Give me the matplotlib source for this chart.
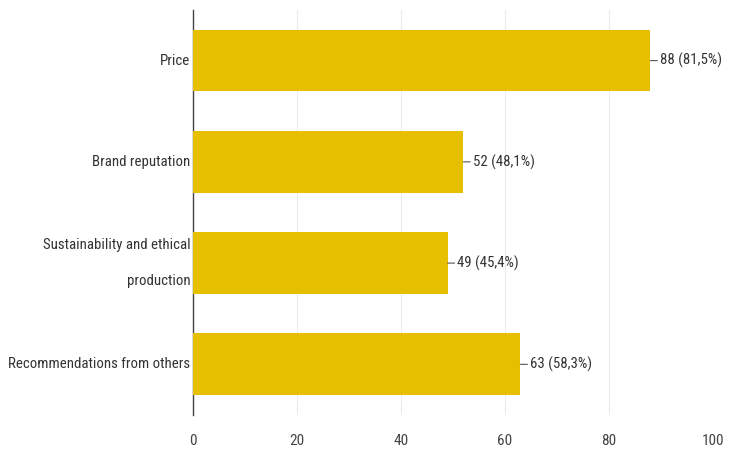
import matplotlib

matplotlib.use("Agg")
import matplotlib.pyplot as plt

categories = [
    "Price",
    "Brand reputation",
    "Sustainability and ethical\nproduction",
    "Recommendations from others",
]
counts = [88, 52, 49, 63]
percents = ["81,5%", "48,1%", "45,4%", "58,3%"]
x_ticks = [0, 20, 40, 60, 80, 100]

plt.rcParams["font.family"] = ["Roboto Condensed", "DejaVu Sans"]

fig = plt.figure(figsize=(7.31, 4.54), dpi=100)
fig.patch.set_facecolor("white")
ax = fig.add_axes([0.264, 0.086, 0.711, 0.892])

y = list(range(len(categories)))
ax.barh(y, counts, height=0.61, color="#E6BF00", zorder=3)

for yi, c, p in zip(y, counts, percents):
    ax.annotate(
        f"{c} ({p})",
        xy=(c, yi),
        xytext=(7, 0),
        textcoords="offset points",
        va="center",
        ha="left",
        fontsize=10.7,
        color="#333333",
        arrowprops=dict(arrowstyle="-", color="#555555", lw=0.8,
                        shrinkA=0, shrinkB=0),
    )

ax.set_xlim(0, 100)
ax.set_ylim(len(categories) - 0.5, -0.5)
ax.set_xticks(x_ticks)
ax.set_yticks(y)
ax.set_yticklabels(categories, fontsize=10.7, color="#333333",
                   linespacing=3.0, va="center")
ax.tick_params(axis="x", labelsize=11, labelcolor="#444444", length=0, pad=14)
ax.tick_params(axis="y", length=0, pad=2)

ax.grid(axis="x", color="#ececec", lw=0.8, zorder=0)
for side in ["top", "right", "bottom"]:
    ax.spines[side].set_visible(False)
ax.spines["left"].set_color("#444444")
ax.spines["left"].set_linewidth(1)

fig.savefig("out.png", dpi=100)
